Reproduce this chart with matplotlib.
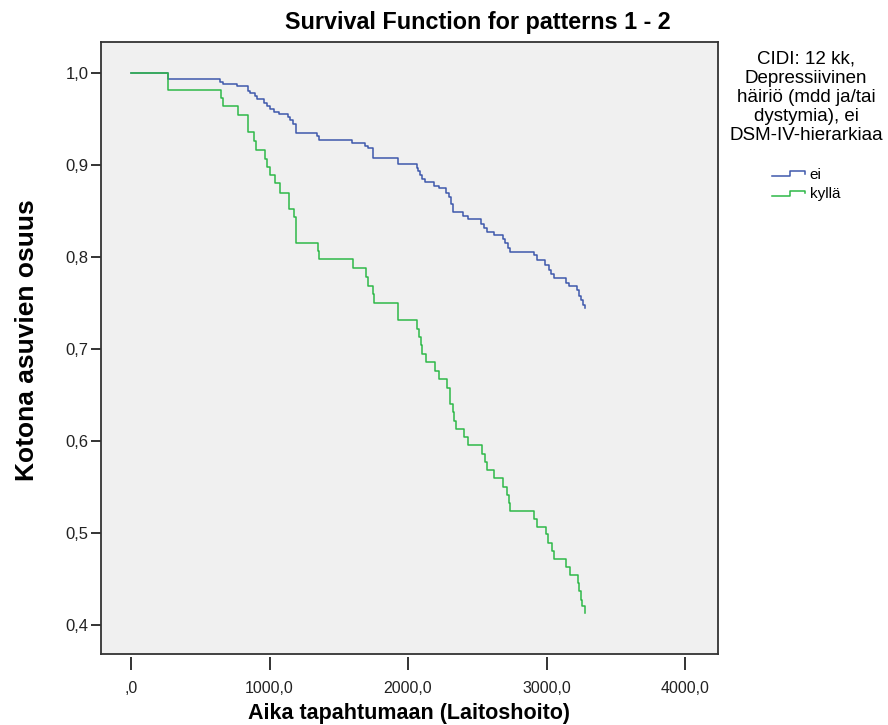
import numpy as np
import matplotlib
matplotlib.use('Agg')
import matplotlib.pyplot as plt
from matplotlib.lines import Line2D
from matplotlib.legend_handler import HandlerBase

plt.rcParams['font.family'] = ['Liberation Sans', 'DejaVu Sans']

# Kaplan-Meier -käyrät luettuna kuvasta (aika, osuus), porras "post"
ei_aika = [0, 264, 643, 661, 762, 847, 859, 895, 907, 962, 979, 1004, 1035, 1066,
           1136, 1148, 1172, 1191, 1340, 1355, 1596, 1692, 1708, 1744, 1925, 2062,
           2069, 2087, 2101, 2125, 2190, 2221, 2274, 2298, 2310, 2322, 2394, 2435,
           2527, 2551, 2567, 2618, 2683, 2702, 2719, 2736, 2912, 2929, 2991, 3015,
           3033, 3056, 3141, 3165, 3220, 3237, 3249, 3261, 3280]
ei_osuus = [1.0, 0.9938, 0.990, 0.988, 0.9854, 0.980, 0.978, 0.9745, 0.9716, 0.967,
            0.9636, 0.9607, 0.958, 0.955, 0.952, 0.949, 0.9447, 0.9346, 0.931, 0.9273,
            0.9243, 0.9207, 0.918, 0.908, 0.9008, 0.897, 0.8935, 0.889, 0.8847, 0.882,
            0.877, 0.8746, 0.8698, 0.8654, 0.858, 0.849, 0.8444, 0.841, 0.8364, 0.832,
            0.8273, 0.8237, 0.820, 0.815, 0.810, 0.8055, 0.8018, 0.7964, 0.791, 0.786,
            0.782, 0.777, 0.7716, 0.768, 0.7637, 0.758, 0.753, 0.7474, 0.745]

kylla_aika = [0, 264, 650, 666, 770, 847, 890, 902, 968, 979, 1004, 1042, 1078, 1143,
              1174, 1191, 1347, 1360, 1600, 1697, 1708, 1744, 1752, 1925, 2062, 2082,
              2094, 2101, 2130, 2197, 2226, 2279, 2303, 2327, 2334, 2347, 2406, 2435,
              2534, 2553, 2567, 2623, 2688, 2712, 2726, 2736, 2912, 2929, 2996, 3013,
              3037, 3051, 3141, 3170, 3225, 3237, 3249, 3256, 3280]
kylla_osuus = [1.0, 0.982, 0.973, 0.9636, 0.954, 0.936, 0.926, 0.916, 0.907, 0.898,
               0.889, 0.880, 0.870, 0.852, 0.8436, 0.8157, 0.807, 0.7975, 0.788, 0.778,
               0.769, 0.760, 0.750, 0.732, 0.722, 0.713, 0.704, 0.695, 0.6855, 0.6764,
               0.667, 0.658, 0.640, 0.631, 0.622, 0.6135, 0.6045, 0.5954, 0.5863, 0.5772,
               0.568, 0.5594, 0.5503, 0.541, 0.533, 0.5238, 0.515, 0.5067, 0.4984, 0.489,
               0.480, 0.472, 0.463, 0.454, 0.4456, 0.4366, 0.4275, 0.4202, 0.4129]

x_ticks = [0, 1000, 2000, 3000, 4000]
x_labels = [',0', '1000,0', '2000,0', '3000,0', '4000,0']
y_ticks = [0.4, 0.5, 0.6, 0.7, 0.8, 0.9, 1.0]
y_labels = ['0,4', '0,5', '0,6', '0,7', '0,8', '0,9', '1,0']

sininen = '#3E58AC'
vihrea = '#2EB848'


# legendan porrasikoni
class PorrasHandler(HandlerBase):
    def create_artists(self, legend, orig_handle, xdescent, ydescent,
                       width, height, fontsize, trans):
        xs = np.array([0, 0.55, 0.55, 1.0, 1.0]) * width - xdescent
        ys = np.array([0.25, 0.25, 0.7, 0.7, 0.45]) * height - ydescent
        viiva = Line2D(xs, ys, color=orig_handle.get_color(),
                       lw=orig_handle.get_linewidth(), transform=trans)
        return [viiva]


fig = plt.figure(figsize=(8.88, 7.25), dpi=100)
ax = fig.add_axes([101 / 888, 1 - 654 / 725, 617 / 888, 612 / 725])
ax.set_facecolor('#F0F0F0')

l1, = ax.step(ei_aika, ei_osuus, where='post', color=sininen, lw=1.1)
l2, = ax.step(kylla_aika, kylla_osuus, where='post', color=vihrea, lw=1.1)

ax.set_xlim(-217, 4238)
ax.set_ylim(0.3685, 1.0337)

for s in ax.spines.values():
    s.set_color('#333333')
    s.set_linewidth(1.3)

ax.set_yticks(y_ticks)
ax.set_yticklabels(y_labels)
ax.tick_params(axis='y', direction='out', length=7, width=1.4, color='#333333',
               labelsize=12, labelcolor='#222222', pad=2)
ax.tick_params(axis='x', bottom=False, labelbottom=False)

# x-akseli hieman irti kehyksestä
sec = ax.secondary_xaxis(-0.005)
sec.spines['bottom'].set_visible(False)
sec.set_xticks(x_ticks)
sec.set_xticklabels(x_labels)
sec.tick_params(axis='x', direction='out', length=9, width=1.4, color='#333333',
                labelsize=11.5, labelcolor='#222222', pad=8)

fig.text(478 / 888, 1 - 23 / 725, 'Survival Function for patterns 1 - 2',
         ha='center', va='center', fontsize=16.8, fontweight='bold')
fig.text(409 / 888, 1 - 713 / 725, 'Aika tapahtumaan (Laitoshoito)',
         ha='center', va='center', fontsize=15.5, fontweight='bold')
fig.text(27 / 888, 1 - 340 / 725, 'Kotona asuvien osuus', rotation=90,
         ha='center', va='center', fontsize=19, fontweight='bold')

leg = fig.legend([l1, l2], ['ei', 'kyllä'], loc='upper center',
                 bbox_to_anchor=(806 / 888, 1 - 37 / 725), frameon=False,
                 fontsize=11, handlelength=2.2, handletextpad=0.3,
                 labelspacing=0.35, handler_map={Line2D: PorrasHandler()},
                 title='CIDI: 12 kk,\nDepressiivinen\nhäiriö (mdd ja/tai\n'
                       'dystymia), ei\nDSM-IV-hierarkiaa\n ')
leg.get_title().set_fontsize(13.5)
leg.get_title().set_linespacing(1.15)
leg.get_title().set_multialignment('center')

fig.savefig('out.png', dpi=100)
